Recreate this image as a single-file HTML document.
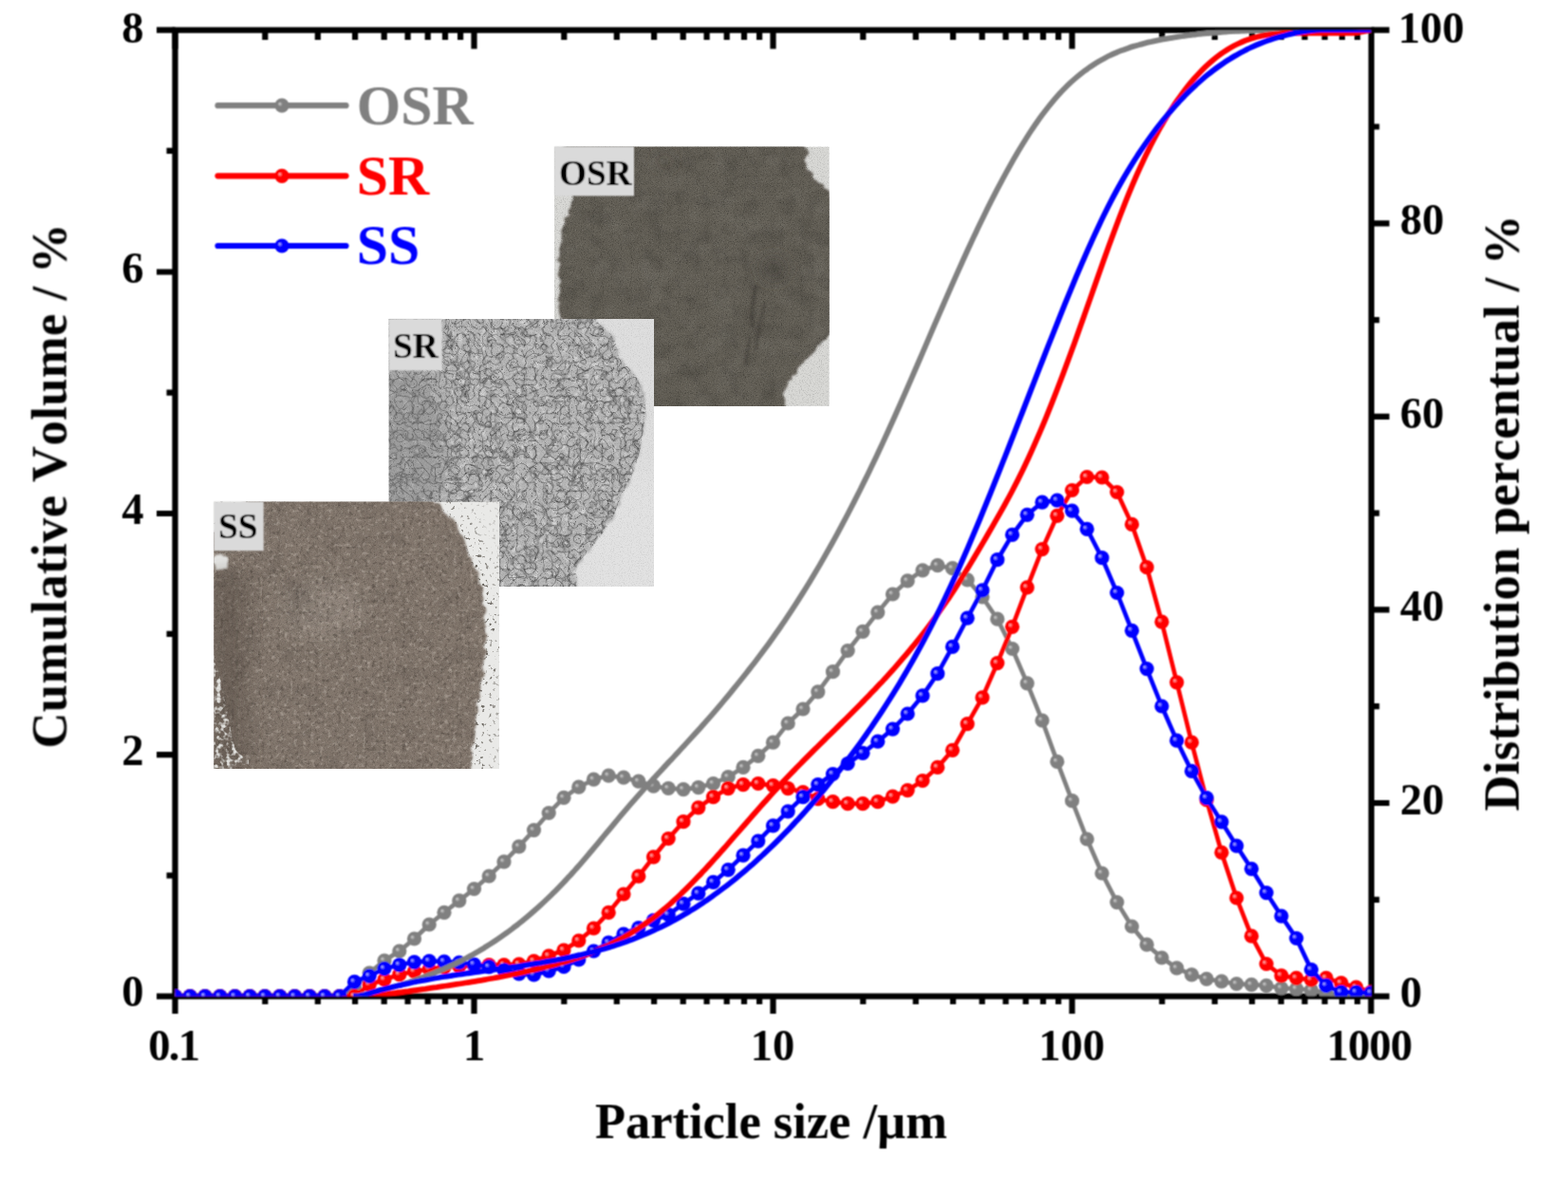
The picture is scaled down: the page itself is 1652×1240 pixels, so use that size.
<!DOCTYPE html><html><head><meta charset="utf-8"><style>html,body{margin:0;padding:0;background:#fff;overflow:hidden}svg{display:block}</style></head><body><svg width="1652" height="1240" viewBox="0 0 1652 1240">
<defs>
<radialGradient id="grg" cx="0.5" cy="0.5" r="0.5" fx="0.33" fy="0.36"><stop offset="0" stop-color="#d4d4d4"/><stop offset="0.34" stop-color="#808080"/><stop offset="1" stop-color="#808080"/></radialGradient>
<circle id="mg" r="7.6" fill="url(#grg)"/>
<radialGradient id="grr" cx="0.5" cy="0.5" r="0.5" fx="0.33" fy="0.36"><stop offset="0" stop-color="#ffc4c4"/><stop offset="0.34" stop-color="#ff0000"/><stop offset="1" stop-color="#ff0000"/></radialGradient>
<circle id="mr" r="7.6" fill="url(#grr)"/>
<radialGradient id="grb" cx="0.5" cy="0.5" r="0.5" fx="0.33" fy="0.36"><stop offset="0" stop-color="#c4c4ff"/><stop offset="0.34" stop-color="#0000ff"/><stop offset="1" stop-color="#0000ff"/></radialGradient>
<circle id="mb" r="7.6" fill="url(#grb)"/>
<filter id="soft" x="0" y="0" width="1652" height="1240" filterUnits="userSpaceOnUse"><feConvolveMatrix order="3" kernelMatrix="1 2 1 2 4 2 1 2 1" divisor="16" edgeMode="duplicate"/></filter>
<clipPath id="pc"><rect x="184.5" y="31.7" width="1260.3" height="1017.9"/></clipPath>

<filter id="fgrain" x="0" y="0" width="100%" height="100%" color-interpolation-filters="sRGB">
 <feTurbulence type="fractalNoise" baseFrequency="0.9" numOctaves="2" seed="4" result="n"/>
 <feColorMatrix in="n" type="matrix" values="0 0 0 0 0  0 0 0 0 0  0 0 0 0 0  1.6 0 0 0 -0.78"/>
</filter>
<filter id="fgrainw" x="0" y="0" width="100%" height="100%" color-interpolation-filters="sRGB">
 <feTurbulence type="fractalNoise" baseFrequency="0.8" numOctaves="2" seed="9" result="n"/>
 <feColorMatrix in="n" type="matrix" values="0 0 0 0 1  0 0 0 0 1  0 0 0 0 1  1.4 0 0 0 -0.72"/>
</filter>
<filter id="fclump" x="0" y="0" width="100%" height="100%" color-interpolation-filters="sRGB">
 <feTurbulence type="fractalNoise" baseFrequency="0.22" numOctaves="2" seed="11" result="n"/>
 <feColorMatrix in="n" type="matrix" values="0 0 0 0 1  0 0 0 0 0.97  0 0 0 0 0.93  2.2 0 0 0 -1.15"/>
</filter>
<filter id="fclumpd" x="0" y="0" width="100%" height="100%" color-interpolation-filters="sRGB">
 <feTurbulence type="fractalNoise" baseFrequency="0.25" numOctaves="2" seed="13" result="n"/>
 <feColorMatrix in="n" type="matrix" values="0 0 0 0 0.1  0 0 0 0 0.08  0 0 0 0 0.06  2.2 0 0 0 -1.15"/>
</filter>
<filter id="fmottle" x="0" y="0" width="100%" height="100%" color-interpolation-filters="sRGB">
 <feTurbulence type="fractalNoise" baseFrequency="0.05" numOctaves="3" seed="2" result="n"/>
 <feColorMatrix in="n" type="matrix" values="0 0 0 0 0  0 0 0 0 0  0 0 0 0 0  1.0 0 0 0 -0.45"/>
</filter>
<filter id="fmottlew" x="0" y="0" width="100%" height="100%" color-interpolation-filters="sRGB">
 <feTurbulence type="fractalNoise" baseFrequency="0.04" numOctaves="3" seed="21" result="n"/>
 <feColorMatrix in="n" type="matrix" values="0 0 0 0 1  0 0 0 0 1  0 0 0 0 1  1.2 0 0 0 -0.55"/>
</filter>
<filter id="fcrack" x="0" y="0" width="100%" height="100%" color-interpolation-filters="sRGB">
 <feTurbulence type="turbulence" baseFrequency="0.085" numOctaves="2" seed="7" result="n"/>
 <feComponentTransfer in="n" result="c">
  <feFuncR type="table" tableValues="0 0.6 1 1 1 1 1 1 1 1 1 1"/>
 </feComponentTransfer>
 <feColorMatrix in="c" type="matrix" values="0 0 0 0 0.25  0 0 0 0 0.25  0 0 0 0 0.25  -1 0 0 0 1"/>
</filter>
<filter id="fpebble" x="0" y="0" width="100%" height="100%" color-interpolation-filters="sRGB">
 <feTurbulence type="fractalNoise" baseFrequency="0.16" numOctaves="2" seed="17" result="n"/>
 <feColorMatrix in="n" type="matrix" values="0 0 0 0 1  0 0 0 0 1  0 0 0 0 1  2.4 0 0 0 -1.2"/>
</filter>
<filter id="fcrack2" x="0" y="0" width="100%" height="100%" color-interpolation-filters="sRGB">
 <feTurbulence type="turbulence" baseFrequency="0.11" numOctaves="1" seed="23" result="n"/>
 <feComponentTransfer in="n" result="c">
  <feFuncR type="table" tableValues="0 0.7 1 1 1 1 1 1 1 1 1 1 1 1"/>
 </feComponentTransfer>
 <feColorMatrix in="c" type="matrix" values="0 0 0 0 0.2  0 0 0 0 0.2  0 0 0 0 0.2  -1 0 0 0 1"/>
</filter>
<filter id="fedge" x="-5%" y="-5%" width="110%" height="110%">
 <feTurbulence type="fractalNoise" baseFrequency="0.12" numOctaves="2" seed="5" result="t"/>
 <feDisplacementMap in="SourceGraphic" in2="t" scale="8" xChannelSelector="R" yChannelSelector="G" result="d"/>
 <feGaussianBlur in="d" stdDeviation="0.9"/>
</filter>
<filter id="fspeck" x="0" y="0" width="100%" height="100%" color-interpolation-filters="sRGB">
 <feTurbulence type="fractalNoise" baseFrequency="0.26" numOctaves="2" seed="31" result="n"/>
 <feColorMatrix in="n" type="matrix" values="0 0 0 0 0.3  0 0 0 0 0.28  0 0 0 0 0.25  7 0 0 0 -4.3"/>
</filter>
<filter id="fsoft2" x="-20%" y="-20%" width="140%" height="140%"><feGaussianBlur stdDeviation="1.5"/></filter>
<filter id="fwhite" x="0" y="0" width="100%" height="100%" color-interpolation-filters="sRGB">
 <feTurbulence type="fractalNoise" baseFrequency="0.18" numOctaves="2" seed="41" result="n"/>
 <feColorMatrix in="n" type="matrix" values="0 0 0 0 0.9  0 0 0 0 0.9  0 0 0 0 0.89  4 0 0 0 -1.9"/>
</filter>
<clipPath id="cSSl"><path d="M225,690 C236,720 240,760 248,790 C258,800 270,805 280,812 L225,812Z"/></clipPath>
<filter id="fblur6" x="-100%" y="-100%" width="300%" height="300%"><feGaussianBlur stdDeviation="10"/></filter>
<clipPath id="cOSR"><rect x="584" y="154.4" width="289.8" height="273.5"/></clipPath>
<clipPath id="cSR"><rect x="409.7" y="336" width="279.3" height="282"/></clipPath>
<clipPath id="cSS"><rect x="225.3" y="528.5" width="300.8" height="281.6"/></clipPath>
<mask id="mSSedge"><path d="M250.0,520.0C256.3,517.0 275.0,518.0 300.0,518.0C325.0,518.0 374.5,518.7 400.0,520.0C425.5,521.3 441.3,522.5 453.0,526.0C464.7,529.5 464.8,535.3 470.0,541.0C475.2,546.7 480.0,553.2 484.0,560.0C488.0,566.8 491.2,575.3 494.0,582.0C496.8,588.7 498.7,593.7 501.0,600.0C503.3,606.3 506.3,610.0 508.0,620.0C509.7,630.0 510.7,646.7 511.0,660.0C511.3,673.3 511.2,686.7 510.0,700.0C508.8,713.3 505.7,726.7 504.0,740.0C502.3,753.3 501.3,768.0 500.0,780.0C498.7,792.0 496.8,803.7 496.0,812.0C495.2,820.3 511.0,827.0 495.0,830.0C479.0,833.0 446.7,830.0 400.0,830.0C353.3,830.0 246.0,841.7 215.0,830.0C184.0,818.3 213.8,781.7 214.0,760.0C214.2,738.3 215.7,720.0 216.0,700.0C216.3,680.0 216.0,656.7 216.0,640.0C216.0,623.3 215.7,611.7 216.0,600.0C216.3,588.3 210.3,580.7 218.0,570.0C225.7,559.3 256.7,544.3 262.0,536.0C267.3,527.7 243.7,523.0 250.0,520.0Z" fill="none" stroke="#fff" stroke-width="30" filter="url(#fblur6)"/></mask><clipPath id="cSRb"><path d="M400.0,330.0C417.5,304.3 464.2,325.7 500.0,326.0C535.8,326.3 593.0,329.3 615.0,332.0C637.0,334.7 626.8,338.0 632.0,342.0C637.2,346.0 642.0,349.7 646.0,356.0C650.0,362.3 651.8,373.0 656.0,380.0C660.2,387.0 667.0,390.2 671.0,398.0C675.0,405.8 678.8,418.2 680.0,427.0C681.2,435.8 679.0,443.0 678.0,451.0C677.0,459.0 676.0,466.8 674.0,475.0C672.0,483.2 669.3,491.8 666.0,500.0C662.7,508.2 657.7,516.0 654.0,524.0C650.3,532.0 648.5,540.0 644.0,548.0C639.5,556.0 633.0,564.0 627.0,572.0C621.0,580.0 612.8,587.2 608.0,596.0C603.2,604.8 616.0,619.3 598.0,625.0C580.0,630.7 533.0,629.2 500.0,630.0C467.0,630.8 417.5,655.0 400.0,630.0C382.5,605.0 395.0,530.0 395.0,480.0C395.0,430.0 382.5,355.7 400.0,330.0Z"/></clipPath><clipPath id="cOSRb"><path d="M600.0,150.0C616.3,138.8 660.3,145.2 700.0,145.0C739.7,144.8 813.3,144.5 838.0,149.0C862.7,153.5 844.0,165.0 848.0,172.0C852.0,179.0 857.8,185.7 862.0,191.0C866.2,196.3 869.8,197.5 873.0,204.0C876.2,210.5 879.7,209.0 881.0,230.0C882.3,251.0 882.0,310.0 881.0,330.0C880.0,350.0 877.5,344.7 875.0,350.0C872.5,355.3 870.5,357.0 866.0,362.0C861.5,367.0 853.3,373.8 848.0,380.0C842.7,386.2 837.7,393.3 834.0,399.0C830.3,404.7 828.8,408.2 826.0,414.0C823.2,419.8 838.0,429.7 817.0,434.0C796.0,438.3 736.2,439.0 700.0,440.0C663.8,441.0 617.7,448.3 600.0,440.0C582.3,431.7 595.7,408.3 594.0,390.0C592.3,371.7 590.8,348.3 590.0,330.0C589.2,311.7 588.5,295.0 589.0,280.0C589.5,265.0 590.8,251.3 593.0,240.0C595.2,228.7 600.8,227.0 602.0,212.0C603.2,197.0 583.7,161.2 600.0,150.0Z"/></clipPath><clipPath id="cSSb"><path d="M250.0,520.0C256.3,517.0 275.0,518.0 300.0,518.0C325.0,518.0 374.5,518.7 400.0,520.0C425.5,521.3 441.3,522.5 453.0,526.0C464.7,529.5 464.8,535.3 470.0,541.0C475.2,546.7 480.0,553.2 484.0,560.0C488.0,566.8 491.2,575.3 494.0,582.0C496.8,588.7 498.7,593.7 501.0,600.0C503.3,606.3 506.3,610.0 508.0,620.0C509.7,630.0 510.7,646.7 511.0,660.0C511.3,673.3 511.2,686.7 510.0,700.0C508.8,713.3 505.7,726.7 504.0,740.0C502.3,753.3 501.3,768.0 500.0,780.0C498.7,792.0 496.8,803.7 496.0,812.0C495.2,820.3 511.0,827.0 495.0,830.0C479.0,833.0 446.7,830.0 400.0,830.0C353.3,830.0 246.0,841.7 215.0,830.0C184.0,818.3 213.8,781.7 214.0,760.0C214.2,738.3 215.7,720.0 216.0,700.0C216.3,680.0 216.0,656.7 216.0,640.0C216.0,623.3 215.7,611.7 216.0,600.0C216.3,588.3 210.3,580.7 218.0,570.0C225.7,559.3 256.7,544.3 262.0,536.0C267.3,527.7 243.7,523.0 250.0,520.0Z"/></clipPath>
</defs>
<rect width="1652" height="1240" fill="#fff"/>
<g clip-path="url(#cOSR)"><rect x="584" y="154.4" width="289.8" height="273.5" fill="#d8d8d5"/><rect x="584" y="154.4" width="289.8" height="273.5" filter="url(#fgrain)" opacity="0.25" /><path d="M600.0,150.0C616.3,138.8 660.3,145.2 700.0,145.0C739.7,144.8 813.3,144.5 838.0,149.0C862.7,153.5 844.0,165.0 848.0,172.0C852.0,179.0 857.8,185.7 862.0,191.0C866.2,196.3 869.8,197.5 873.0,204.0C876.2,210.5 879.7,209.0 881.0,230.0C882.3,251.0 882.0,310.0 881.0,330.0C880.0,350.0 877.5,344.7 875.0,350.0C872.5,355.3 870.5,357.0 866.0,362.0C861.5,367.0 853.3,373.8 848.0,380.0C842.7,386.2 837.7,393.3 834.0,399.0C830.3,404.7 828.8,408.2 826.0,414.0C823.2,419.8 838.0,429.7 817.0,434.0C796.0,438.3 736.2,439.0 700.0,440.0C663.8,441.0 617.7,448.3 600.0,440.0C582.3,431.7 595.7,408.3 594.0,390.0C592.3,371.7 590.8,348.3 590.0,330.0C589.2,311.7 588.5,295.0 589.0,280.0C589.5,265.0 590.8,251.3 593.0,240.0C595.2,228.7 600.8,227.0 602.0,212.0C603.2,197.0 583.7,161.2 600.0,150.0Z" fill="#645e57" filter="url(#fedge)"/><g clip-path="url(#cOSRb)"><rect x="584" y="154.4" width="289.8" height="273.5" filter="url(#fmottle)" opacity="0.3" /><rect x="584" y="154.4" width="289.8" height="273.5" filter="url(#fmottlew)" opacity="0.12" /><rect x="584" y="154.4" width="289.8" height="273.5" filter="url(#fgrain)" opacity="0.45" /><rect x="584" y="154.4" width="289.8" height="273.5" filter="url(#fgrainw)" opacity="0.22" /><ellipse cx="815" cy="283" rx="12" ry="11" fill="#35312d" opacity="0.6" filter="url(#fblur6)"/><path d="M797,300 Q790,325 793,345 M806,318 Q800,340 796,368 M790,355 Q787,372 786,385" stroke="#2e2a27" stroke-width="3.5" fill="none" opacity="0.35" filter="url(#fsoft2)"/><ellipse cx="700" cy="170" rx="9" ry="5" fill="#3a3632" opacity="0.5" filter="url(#fblur6)"/></g></g><g clip-path="url(#cSR)"><rect x="409.7" y="336" width="279.3" height="282" fill="#dedede"/><rect x="600" y="500" width="100" height="130" fill="#e2e2e2" filter="url(#fblur6)"/><rect x="409.7" y="336" width="279.3" height="282" filter="url(#fgrain)" opacity="0.15" /><path d="M400.0,330.0C417.5,304.3 464.2,325.7 500.0,326.0C535.8,326.3 593.0,329.3 615.0,332.0C637.0,334.7 626.8,338.0 632.0,342.0C637.2,346.0 642.0,349.7 646.0,356.0C650.0,362.3 651.8,373.0 656.0,380.0C660.2,387.0 667.0,390.2 671.0,398.0C675.0,405.8 678.8,418.2 680.0,427.0C681.2,435.8 679.0,443.0 678.0,451.0C677.0,459.0 676.0,466.8 674.0,475.0C672.0,483.2 669.3,491.8 666.0,500.0C662.7,508.2 657.7,516.0 654.0,524.0C650.3,532.0 648.5,540.0 644.0,548.0C639.5,556.0 633.0,564.0 627.0,572.0C621.0,580.0 612.8,587.2 608.0,596.0C603.2,604.8 616.0,619.3 598.0,625.0C580.0,630.7 533.0,629.2 500.0,630.0C467.0,630.8 417.5,655.0 400.0,630.0C382.5,605.0 395.0,530.0 395.0,480.0C395.0,430.0 382.5,355.7 400.0,330.0Z" fill="#b6b6b6" filter="url(#fedge)"/><g clip-path="url(#cSRb)"><rect x="409.7" y="336" width="279.3" height="282" filter="url(#fpebble)" opacity="0.55" /><rect x="409.7" y="336" width="279.3" height="282" filter="url(#fcrack)" opacity="0.62" /><rect x="409.7" y="336" width="279.3" height="282" filter="url(#fcrack2)" opacity="0.38" /><rect x="409.7" y="336" width="279.3" height="282" filter="url(#fgrain)" opacity="0.3" /><rect x="409.7" y="336" width="279.3" height="282" filter="url(#fgrainw)" opacity="0.25" /><ellipse cx="430" cy="470" rx="40" ry="90" fill="#707070" opacity="0.35" filter="url(#fblur6)"/></g></g><g clip-path="url(#cSS)"><rect x="225.3" y="528.5" width="300.8" height="281.6" fill="#e9e9e7"/><rect x="225.3" y="528.5" width="300.8" height="281.6" filter="url(#fspeck)" opacity="0.2" /><rect x="225.3" y="528.5" width="300.8" height="281.6" filter="url(#fspeck)" opacity="0.9" mask="url(#mSSedge)"/><path d="M250.0,520.0C256.3,517.0 275.0,518.0 300.0,518.0C325.0,518.0 374.5,518.7 400.0,520.0C425.5,521.3 441.3,522.5 453.0,526.0C464.7,529.5 464.8,535.3 470.0,541.0C475.2,546.7 480.0,553.2 484.0,560.0C488.0,566.8 491.2,575.3 494.0,582.0C496.8,588.7 498.7,593.7 501.0,600.0C503.3,606.3 506.3,610.0 508.0,620.0C509.7,630.0 510.7,646.7 511.0,660.0C511.3,673.3 511.2,686.7 510.0,700.0C508.8,713.3 505.7,726.7 504.0,740.0C502.3,753.3 501.3,768.0 500.0,780.0C498.7,792.0 496.8,803.7 496.0,812.0C495.2,820.3 511.0,827.0 495.0,830.0C479.0,833.0 446.7,830.0 400.0,830.0C353.3,830.0 246.0,841.7 215.0,830.0C184.0,818.3 213.8,781.7 214.0,760.0C214.2,738.3 215.7,720.0 216.0,700.0C216.3,680.0 216.0,656.7 216.0,640.0C216.0,623.3 215.7,611.7 216.0,600.0C216.3,588.3 210.3,580.7 218.0,570.0C225.7,559.3 256.7,544.3 262.0,536.0C267.3,527.7 243.7,523.0 250.0,520.0Z" fill="#83776d" filter="url(#fedge)"/><g clip-path="url(#cSSb)"><ellipse cx="340" cy="640" rx="45" ry="35" fill="#9a8f85" opacity="0.6" filter="url(#fblur6)"/><ellipse cx="316" cy="625" rx="10" ry="14" fill="#4a423c" opacity="0.5" filter="url(#fblur6)"/><rect x="225.3" y="528.5" width="300.8" height="281.6" filter="url(#fmottle)" opacity="0.22" /><rect x="225.3" y="528.5" width="300.8" height="281.6" filter="url(#fclump)" opacity="0.35" /><rect x="225.3" y="528.5" width="300.8" height="281.6" filter="url(#fclumpd)" opacity="0.35" /><rect x="225.3" y="528.5" width="300.8" height="281.6" filter="url(#fgrain)" opacity="0.25" /><rect x="225.3" y="528.5" width="300.8" height="281.6" filter="url(#fgrainw)" opacity="0.15" /></g><ellipse cx="232" cy="592" rx="8" ry="9" fill="#e8e8e6" filter="url(#fedge)"/><rect x="220" y="600" width="40" height="215" fill="#3c352f" opacity="0.3" filter="url(#fblur6)"/><g clip-path="url(#cSSl)"><rect x="222" y="690" width="40" height="125" filter="url(#fwhite)" opacity="0.95"/></g></g>
<g filter="url(#soft)">
<rect x="584" y="154.4" width="84" height="52" fill="#dadada"/><text x="589" y="194.6" font-family="Liberation Serif, serif" font-weight="bold" font-size="37.3" fill="#000" style="font-kerning:none">OSR</text><rect x="409.7" y="336" width="56" height="54.4" fill="#dadada"/><text x="414" y="376.5" font-family="Liberation Serif, serif" font-weight="bold" font-size="37.5" fill="#000" style="font-kerning:none">SR</text><rect x="225.3" y="528.5" width="52.4" height="51.7" fill="#dadada"/><text x="230" y="567.3" font-family="Liberation Serif, serif" font-weight="bold" font-size="37.5" fill="#000" style="font-kerning:none">SS</text>
<g stroke="#000" stroke-width="6.2" fill="none" stroke-linecap="square">
<rect x="184.5" y="31.7" width="1260.3" height="1017.9" stroke-linecap="butt"/>
<path d="M184.5,1049.6V1068 M184.5,31.7V51.6 M279.3,1049.6V1058 M279.3,31.7V42 M334.8,1049.6V1058 M334.8,31.7V42 M374.1,1049.6V1058 M374.1,31.7V42 M404.7,1049.6V1058 M404.7,31.7V42 M429.6,1049.6V1058 M429.6,31.7V42 M450.7,1049.6V1058 M450.7,31.7V42 M469,1049.6V1058 M469,31.7V42 M485.1,1049.6V1058 M485.1,31.7V42 M499.5,1049.6V1068 M499.5,31.7V51.6 M594.3,1049.6V1058 M594.3,31.7V42 M649.8,1049.6V1058 M649.8,31.7V42 M689.1,1049.6V1058 M689.1,31.7V42 M719.7,1049.6V1058 M719.7,31.7V42 M744.6,1049.6V1058 M744.6,31.7V42 M765.7,1049.6V1058 M765.7,31.7V42 M784,1049.6V1058 M784,31.7V42 M800.1,1049.6V1058 M800.1,31.7V42 M814.5,1049.6V1068 M814.5,31.7V51.6 M909.3,1049.6V1058 M909.3,31.7V42 M964.8,1049.6V1058 M964.8,31.7V42 M1004.1,1049.6V1058 M1004.1,31.7V42 M1034.7,1049.6V1058 M1034.7,31.7V42 M1059.6,1049.6V1058 M1059.6,31.7V42 M1080.7,1049.6V1058 M1080.7,31.7V42 M1099,1049.6V1058 M1099,31.7V42 M1115.1,1049.6V1058 M1115.1,31.7V42 M1129.5,1049.6V1068 M1129.5,31.7V51.6 M1224.3,1049.6V1058 M1224.3,31.7V42 M1279.8,1049.6V1058 M1279.8,31.7V42 M1319.1,1049.6V1058 M1319.1,31.7V42 M1349.7,1049.6V1058 M1349.7,31.7V42 M1374.6,1049.6V1058 M1374.6,31.7V42 M1395.7,1049.6V1058 M1395.7,31.7V42 M1414,1049.6V1058 M1414,31.7V42 M1430.1,1049.6V1058 M1430.1,31.7V42 M1444.5,1049.6V1068 M184.5,1049.6H165 M184.5,922.3H175.5 M184.5,795.1H165 M184.5,667.8H175.5 M184.5,541H165 M184.5,413.6H175.5 M184.5,286.5H165 M184.5,158.9H175.5 M184.5,31.7H165 M1444.8,1049.6H1463.8 M1444.8,947.8H1453.3 M1444.8,846H1463.8 M1444.8,744.2H1453.3 M1444.8,642.4H1463.8 M1444.8,540.6H1453.3 M1444.8,438.9H1463.8 M1444.8,337.1H1453.3 M1444.8,235.3H1463.8 M1444.8,133.5H1453.3 M1444.8,31.7H1463.8" stroke-linecap="butt"/>
</g>
<g clip-path="url(#pc)" fill="none" stroke-linejoin="round">
<polyline points="184.5,1049.6 200.2,1049.6 216,1049.6 231.8,1049.6 247.5,1049.6 263.2,1049.6 279,1049.6 294.8,1049.6 310.5,1049.6 326.2,1049.6 342,1049.6 357.8,1049.6 373.5,1040 389.2,1025 405,1012 420.8,1002 436.5,989 452.2,974 468,961.3 483.8,948.9 499.5,936.5 515.2,923 531,907.9 546.8,891.8 562.5,874.6 578.2,856.5 594,840.3 609.8,829.2 625.5,821.2 641.2,817.1 657,819.2 672.8,823.2 688.5,828.2 704.2,830.5 720,831.6 735.8,829.6 751.5,825.5 767.2,818.5 783,808.4 798.8,796.3 814.5,782.2 830.2,762 846,747 861.8,728.8 877.5,707.7 893.2,685.5 909,665.3 924.8,645.1 940.5,626 956.2,611.9 972,600.8 987.8,595.7 1003.5,598.7 1019.2,610.8 1035,629 1050.8,652.2 1066.5,683.5 1082.2,719.8 1098,759 1113.8,802.4 1129.5,843.7 1145.2,884 1161,920 1176.8,950.6 1192.5,976 1208.2,995.2 1224,1009 1239.8,1019.9 1255.5,1026.9 1271.2,1031.3 1287,1033.9 1302.8,1036.5 1318.5,1037.4 1334.2,1038.3 1350,1041 1365.8,1041.8 1381.5,1043 1397.2,1046 1413,1049.6 1428.8,1049.6 1444.5,1049.6" stroke="#808080" stroke-width="4.6"/>
<g><use href="#mg" x="184.5" y="1049.6"/><use href="#mg" x="200.2" y="1049.6"/><use href="#mg" x="216" y="1049.6"/><use href="#mg" x="231.8" y="1049.6"/><use href="#mg" x="247.5" y="1049.6"/><use href="#mg" x="263.2" y="1049.6"/><use href="#mg" x="279" y="1049.6"/><use href="#mg" x="294.8" y="1049.6"/><use href="#mg" x="310.5" y="1049.6"/><use href="#mg" x="326.2" y="1049.6"/><use href="#mg" x="342" y="1049.6"/><use href="#mg" x="357.8" y="1049.6"/><use href="#mg" x="373.5" y="1040"/><use href="#mg" x="389.2" y="1025"/><use href="#mg" x="405" y="1012"/><use href="#mg" x="420.8" y="1002"/><use href="#mg" x="436.5" y="989"/><use href="#mg" x="452.2" y="974"/><use href="#mg" x="468" y="961.3"/><use href="#mg" x="483.8" y="948.9"/><use href="#mg" x="499.5" y="936.5"/><use href="#mg" x="515.2" y="923"/><use href="#mg" x="531" y="907.9"/><use href="#mg" x="546.8" y="891.8"/><use href="#mg" x="562.5" y="874.6"/><use href="#mg" x="578.2" y="856.5"/><use href="#mg" x="594" y="840.3"/><use href="#mg" x="609.8" y="829.2"/><use href="#mg" x="625.5" y="821.2"/><use href="#mg" x="641.2" y="817.1"/><use href="#mg" x="657" y="819.2"/><use href="#mg" x="672.8" y="823.2"/><use href="#mg" x="688.5" y="828.2"/><use href="#mg" x="704.2" y="830.5"/><use href="#mg" x="720" y="831.6"/><use href="#mg" x="735.8" y="829.6"/><use href="#mg" x="751.5" y="825.5"/><use href="#mg" x="767.2" y="818.5"/><use href="#mg" x="783" y="808.4"/><use href="#mg" x="798.8" y="796.3"/><use href="#mg" x="814.5" y="782.2"/><use href="#mg" x="830.2" y="762"/><use href="#mg" x="846" y="747"/><use href="#mg" x="861.8" y="728.8"/><use href="#mg" x="877.5" y="707.7"/><use href="#mg" x="893.2" y="685.5"/><use href="#mg" x="909" y="665.3"/><use href="#mg" x="924.8" y="645.1"/><use href="#mg" x="940.5" y="626"/><use href="#mg" x="956.2" y="611.9"/><use href="#mg" x="972" y="600.8"/><use href="#mg" x="987.8" y="595.7"/><use href="#mg" x="1003.5" y="598.7"/><use href="#mg" x="1019.2" y="610.8"/><use href="#mg" x="1035" y="629"/><use href="#mg" x="1050.8" y="652.2"/><use href="#mg" x="1066.5" y="683.5"/><use href="#mg" x="1082.2" y="719.8"/><use href="#mg" x="1098" y="759"/><use href="#mg" x="1113.8" y="802.4"/><use href="#mg" x="1129.5" y="843.7"/><use href="#mg" x="1145.2" y="884"/><use href="#mg" x="1161" y="920"/><use href="#mg" x="1176.8" y="950.6"/><use href="#mg" x="1192.5" y="976"/><use href="#mg" x="1208.2" y="995.2"/><use href="#mg" x="1224" y="1009"/><use href="#mg" x="1239.8" y="1019.9"/><use href="#mg" x="1255.5" y="1026.9"/><use href="#mg" x="1271.2" y="1031.3"/><use href="#mg" x="1287" y="1033.9"/><use href="#mg" x="1302.8" y="1036.5"/><use href="#mg" x="1318.5" y="1037.4"/><use href="#mg" x="1334.2" y="1038.3"/><use href="#mg" x="1350" y="1041"/><use href="#mg" x="1365.8" y="1041.8"/><use href="#mg" x="1381.5" y="1043"/><use href="#mg" x="1397.2" y="1046"/><use href="#mg" x="1413" y="1049.6"/><use href="#mg" x="1428.8" y="1049.6"/><use href="#mg" x="1444.5" y="1049.6"/></g>
<polyline points="184.5,1049.6 200.2,1049.6 216,1049.6 231.8,1049.6 247.5,1049.6 263.2,1049.6 279,1049.6 294.8,1049.6 310.5,1049.6 326.2,1049.6 342,1049.6 357.8,1049.6 373.5,1049.6 389.2,1037.5 405,1032 420.8,1026.7 436.5,1023.5 452.2,1021 468,1019 483.8,1018 499.5,1017 515.2,1016.5 531,1016.5 546.8,1015.8 562.5,1012.5 578.2,1007 594,1001 609.8,991 625.5,978 641.2,961.4 657,942 672.8,923.2 688.5,902.8 704.2,883.5 720,865.7 735.8,850.8 751.5,839.7 767.2,830.6 783,826.6 798.8,825.5 814.5,827.6 830.2,830.6 846,834.6 861.8,841.7 877.5,844.7 893.2,846.7 909,846.7 924.8,844.7 940.5,839.2 956.2,832.6 972,822.5 987.8,808.4 1003.5,790.3 1019.2,762.6 1035,734.9 1050.8,698.6 1066.5,660.3 1082.2,618.9 1098,578.6 1113.8,543.3 1129.5,516.5 1145.2,502.5 1161,503 1176.8,518.5 1192.5,552.4 1208.2,597.7 1224,655.2 1239.8,718.8 1255.5,782.2 1271.2,842.7 1287,898.2 1302.8,946 1318.5,986.2 1334.2,1015.5 1350,1027.8 1365.8,1030.4 1381.5,1032.2 1397.2,1030.4 1413,1035.7 1428.8,1040.1 1444.5,1045" stroke="#ff0000" stroke-width="4.6"/>
<g><use href="#mr" x="184.5" y="1049.6"/><use href="#mr" x="200.2" y="1049.6"/><use href="#mr" x="216" y="1049.6"/><use href="#mr" x="231.8" y="1049.6"/><use href="#mr" x="247.5" y="1049.6"/><use href="#mr" x="263.2" y="1049.6"/><use href="#mr" x="279" y="1049.6"/><use href="#mr" x="294.8" y="1049.6"/><use href="#mr" x="310.5" y="1049.6"/><use href="#mr" x="326.2" y="1049.6"/><use href="#mr" x="342" y="1049.6"/><use href="#mr" x="357.8" y="1049.6"/><use href="#mr" x="373.5" y="1049.6"/><use href="#mr" x="389.2" y="1037.5"/><use href="#mr" x="405" y="1032"/><use href="#mr" x="420.8" y="1026.7"/><use href="#mr" x="436.5" y="1023.5"/><use href="#mr" x="452.2" y="1021"/><use href="#mr" x="468" y="1019"/><use href="#mr" x="483.8" y="1018"/><use href="#mr" x="499.5" y="1017"/><use href="#mr" x="515.2" y="1016.5"/><use href="#mr" x="531" y="1016.5"/><use href="#mr" x="546.8" y="1015.8"/><use href="#mr" x="562.5" y="1012.5"/><use href="#mr" x="578.2" y="1007"/><use href="#mr" x="594" y="1001"/><use href="#mr" x="609.8" y="991"/><use href="#mr" x="625.5" y="978"/><use href="#mr" x="641.2" y="961.4"/><use href="#mr" x="657" y="942"/><use href="#mr" x="672.8" y="923.2"/><use href="#mr" x="688.5" y="902.8"/><use href="#mr" x="704.2" y="883.5"/><use href="#mr" x="720" y="865.7"/><use href="#mr" x="735.8" y="850.8"/><use href="#mr" x="751.5" y="839.7"/><use href="#mr" x="767.2" y="830.6"/><use href="#mr" x="783" y="826.6"/><use href="#mr" x="798.8" y="825.5"/><use href="#mr" x="814.5" y="827.6"/><use href="#mr" x="830.2" y="830.6"/><use href="#mr" x="846" y="834.6"/><use href="#mr" x="861.8" y="841.7"/><use href="#mr" x="877.5" y="844.7"/><use href="#mr" x="893.2" y="846.7"/><use href="#mr" x="909" y="846.7"/><use href="#mr" x="924.8" y="844.7"/><use href="#mr" x="940.5" y="839.2"/><use href="#mr" x="956.2" y="832.6"/><use href="#mr" x="972" y="822.5"/><use href="#mr" x="987.8" y="808.4"/><use href="#mr" x="1003.5" y="790.3"/><use href="#mr" x="1019.2" y="762.6"/><use href="#mr" x="1035" y="734.9"/><use href="#mr" x="1050.8" y="698.6"/><use href="#mr" x="1066.5" y="660.3"/><use href="#mr" x="1082.2" y="618.9"/><use href="#mr" x="1098" y="578.6"/><use href="#mr" x="1113.8" y="543.3"/><use href="#mr" x="1129.5" y="516.5"/><use href="#mr" x="1145.2" y="502.5"/><use href="#mr" x="1161" y="503"/><use href="#mr" x="1176.8" y="518.5"/><use href="#mr" x="1192.5" y="552.4"/><use href="#mr" x="1208.2" y="597.7"/><use href="#mr" x="1224" y="655.2"/><use href="#mr" x="1239.8" y="718.8"/><use href="#mr" x="1255.5" y="782.2"/><use href="#mr" x="1271.2" y="842.7"/><use href="#mr" x="1287" y="898.2"/><use href="#mr" x="1302.8" y="946"/><use href="#mr" x="1318.5" y="986.2"/><use href="#mr" x="1334.2" y="1015.5"/><use href="#mr" x="1350" y="1027.8"/><use href="#mr" x="1365.8" y="1030.4"/><use href="#mr" x="1381.5" y="1032.2"/><use href="#mr" x="1397.2" y="1030.4"/><use href="#mr" x="1413" y="1035.7"/><use href="#mr" x="1428.8" y="1040.1"/><use href="#mr" x="1444.5" y="1045"/></g>
<polyline points="184.5,1049.6 200.2,1049.6 216,1049.6 231.8,1049.6 247.5,1049.6 263.2,1049.6 279,1049.6 294.8,1049.6 310.5,1049.6 326.2,1049.6 342,1049.6 357.8,1049.6 373.5,1034.4 389.2,1028.3 405,1020.5 420.8,1016.6 436.5,1013.6 452.2,1012.5 468,1013 483.8,1014 499.5,1016 515.2,1018.7 531,1022 546.8,1026 562.5,1027 578.2,1023 594,1018.5 609.8,1011 625.5,1002 641.2,993 657,984 672.8,977.5 688.5,969.6 704.2,963.7 720,952.2 735.8,941.2 751.5,929.4 767.2,916.3 783,901.2 798.8,886.1 814.5,869.9 830.2,854.8 846,839.7 861.8,826.6 877.5,815.5 893.2,804.4 909,793.3 924.8,781.2 940.5,768.1 956.2,752 972,732.9 987.8,709.7 1003.5,681.4 1019.2,651.2 1035,621.9 1050.8,589.7 1066.5,563.4 1082.2,542.3 1098,529.2 1113.8,527.1 1129.5,538.2 1145.2,557.4 1161,587.7 1176.8,624.5 1192.5,664.3 1208.2,704.6 1224,744 1239.8,780.2 1255.5,812.4 1271.2,840.7 1287,865.9 1302.8,891.1 1318.5,915.3 1334.2,940.6 1350,965.1 1365.8,988.5 1381.5,1021.6 1397.2,1038.3 1413,1045.3 1428.8,1045.3 1444.5,1046" stroke="#0000ff" stroke-width="4.6"/>
<g><use href="#mb" x="184.5" y="1049.6"/><use href="#mb" x="200.2" y="1049.6"/><use href="#mb" x="216" y="1049.6"/><use href="#mb" x="231.8" y="1049.6"/><use href="#mb" x="247.5" y="1049.6"/><use href="#mb" x="263.2" y="1049.6"/><use href="#mb" x="279" y="1049.6"/><use href="#mb" x="294.8" y="1049.6"/><use href="#mb" x="310.5" y="1049.6"/><use href="#mb" x="326.2" y="1049.6"/><use href="#mb" x="342" y="1049.6"/><use href="#mb" x="357.8" y="1049.6"/><use href="#mb" x="373.5" y="1034.4"/><use href="#mb" x="389.2" y="1028.3"/><use href="#mb" x="405" y="1020.5"/><use href="#mb" x="420.8" y="1016.6"/><use href="#mb" x="436.5" y="1013.6"/><use href="#mb" x="452.2" y="1012.5"/><use href="#mb" x="468" y="1013"/><use href="#mb" x="483.8" y="1014"/><use href="#mb" x="499.5" y="1016"/><use href="#mb" x="515.2" y="1018.7"/><use href="#mb" x="531" y="1022"/><use href="#mb" x="546.8" y="1026"/><use href="#mb" x="562.5" y="1027"/><use href="#mb" x="578.2" y="1023"/><use href="#mb" x="594" y="1018.5"/><use href="#mb" x="609.8" y="1011"/><use href="#mb" x="625.5" y="1002"/><use href="#mb" x="641.2" y="993"/><use href="#mb" x="657" y="984"/><use href="#mb" x="672.8" y="977.5"/><use href="#mb" x="688.5" y="969.6"/><use href="#mb" x="704.2" y="963.7"/><use href="#mb" x="720" y="952.2"/><use href="#mb" x="735.8" y="941.2"/><use href="#mb" x="751.5" y="929.4"/><use href="#mb" x="767.2" y="916.3"/><use href="#mb" x="783" y="901.2"/><use href="#mb" x="798.8" y="886.1"/><use href="#mb" x="814.5" y="869.9"/><use href="#mb" x="830.2" y="854.8"/><use href="#mb" x="846" y="839.7"/><use href="#mb" x="861.8" y="826.6"/><use href="#mb" x="877.5" y="815.5"/><use href="#mb" x="893.2" y="804.4"/><use href="#mb" x="909" y="793.3"/><use href="#mb" x="924.8" y="781.2"/><use href="#mb" x="940.5" y="768.1"/><use href="#mb" x="956.2" y="752"/><use href="#mb" x="972" y="732.9"/><use href="#mb" x="987.8" y="709.7"/><use href="#mb" x="1003.5" y="681.4"/><use href="#mb" x="1019.2" y="651.2"/><use href="#mb" x="1035" y="621.9"/><use href="#mb" x="1050.8" y="589.7"/><use href="#mb" x="1066.5" y="563.4"/><use href="#mb" x="1082.2" y="542.3"/><use href="#mb" x="1098" y="529.2"/><use href="#mb" x="1113.8" y="527.1"/><use href="#mb" x="1129.5" y="538.2"/><use href="#mb" x="1145.2" y="557.4"/><use href="#mb" x="1161" y="587.7"/><use href="#mb" x="1176.8" y="624.5"/><use href="#mb" x="1192.5" y="664.3"/><use href="#mb" x="1208.2" y="704.6"/><use href="#mb" x="1224" y="744"/><use href="#mb" x="1239.8" y="780.2"/><use href="#mb" x="1255.5" y="812.4"/><use href="#mb" x="1271.2" y="840.7"/><use href="#mb" x="1287" y="865.9"/><use href="#mb" x="1302.8" y="891.1"/><use href="#mb" x="1318.5" y="915.3"/><use href="#mb" x="1334.2" y="940.6"/><use href="#mb" x="1350" y="965.1"/><use href="#mb" x="1365.8" y="988.5"/><use href="#mb" x="1381.5" y="1021.6"/><use href="#mb" x="1397.2" y="1038.3"/><use href="#mb" x="1413" y="1045.3"/><use href="#mb" x="1428.8" y="1045.3"/><use href="#mb" x="1444.5" y="1046"/></g>
<path d="M372,1049.6C373,1049.5 376,1049.3 378,1049C380,1048.7 382,1048.1 384,1047.6C386,1047.2 388,1046.7 390,1046.2C392,1045.7 394,1045.3 396,1044.8C398,1044.3 400,1043.7 402,1043.2C404,1042.7 406,1042.2 408,1041.6C410,1041.1 412,1040.5 414,1040C416,1039.4 418,1038.8 420,1038.2C422,1037.6 424,1037 426,1036.4C428,1035.7 430,1035.1 432,1034.4C434,1033.8 436,1033.1 438,1032.4C440,1031.7 442,1031 444,1030.3C446,1029.6 448,1028.8 450,1028C452,1027.3 454,1026.5 456,1025.7C458,1024.9 460,1024.1 462,1023.2C464,1022.4 466,1021.5 468,1020.7C470,1019.8 472,1018.9 474,1017.9C476,1017 478,1016.1 480,1015.1C482,1014.1 484,1013.1 486,1012.1C488,1011.1 490,1010 492,1009C494,1007.9 496,1006.8 498,1005.7C500,1004.6 502,1003.4 504,1002.3C506,1001.1 508,999.9 510,998.7C512,997.4 514,996.2 516,994.9C518,993.6 520,992.3 522,991C524,989.7 526,988.3 528,986.9C530,985.5 532,984.1 534,982.6C536,981.2 538,979.7 540,978.2C542,976.7 544,975.1 546,973.6C548,972 550,970.4 552,968.7C554,967.1 556,965.4 558,963.7C560,962 562,960.3 564,958.5C566,956.8 568,955 570,953.1C572,951.3 574,949.4 576,947.5C578,945.6 580,943.7 582,941.7C584,939.8 586,937.8 588,935.7C590,933.7 592,931.6 594,929.5C596,927.4 598,925.2 600,923.1C602,920.9 604,918.6 606,916.4C608,914.1 610,911.9 612,909.6C614,907.3 616,904.9 618,902.6C620,900.2 622,897.8 624,895.5C626,893.1 628,890.7 630,888.3C632,885.9 634,883.4 636,881C638,878.6 640,876.2 642,873.8C644,871.4 646,869 648,866.6C650,864.2 652,861.8 654,859.4C656,857.1 658,854.7 660,852.4C662,850 664,847.7 666,845.4C668,843.2 670,840.9 672,838.6C674,836.4 676,834.2 678,831.9C680,829.7 682,827.5 684,825.3C686,823.1 688,821 690,818.8C692,816.6 694,814.4 696,812.3C698,810.1 700,808 702,805.8C704,803.7 706,801.5 708,799.4C710,797.2 712,795.1 714,792.9C716,790.8 718,788.6 720,786.4C722,784.3 724,782.1 726,779.9C728,777.7 730,775.5 732,773.3C734,771.1 736,768.9 738,766.7C740,764.4 742,762.2 744,759.9C746,757.7 748,755.4 750,753.1C752,750.8 754,748.4 756,746.1C758,743.7 760,741.4 762,739C764,736.6 766,734.2 768,731.8C770,729.3 772,726.9 774,724.4C776,722 778,719.5 780,717C782,714.5 784,712 786,709.5C788,706.9 790,704.4 792,701.8C794,699.2 796,696.6 798,694C800,691.4 802,688.7 804,686C806,683.3 808,680.6 810,677.9C812,675.1 814,672.3 816,669.5C818,666.7 820,663.9 822,661C824,658.1 826,655.2 828,652.2C830,649.2 832,646.2 834,643.2C836,640.1 838,637 840,633.9C842,630.8 844,627.6 846,624.4C848,621.2 850,618 852,614.7C854,611.4 856,608.1 858,604.8C860,601.4 862,598 864,594.6C866,591.1 868,587.7 870,584.1C872,580.6 874,577.1 876,573.5C878,569.9 880,566.2 882,562.6C884,558.9 886,555.2 888,551.4C890,547.7 892,543.9 894,540C896,536.2 898,532.3 900,528.4C902,524.5 904,520.5 906,516.5C908,512.5 910,508.5 912,504.4C914,500.4 916,496.2 918,492.1C920,487.9 922,483.7 924,479.5C926,475.2 928,470.9 930,466.6C932,462.3 934,457.9 936,453.5C938,449.1 940,444.7 942,440.2C944,435.7 946,431.2 948,426.7C950,422.2 952,417.6 954,413.1C956,408.5 958,403.9 960,399.3C962,394.7 964,390.1 966,385.5C968,380.8 970,376.2 972,371.6C974,366.9 976,362.3 978,357.7C980,353 982,348.4 984,343.7C986,339.1 988,334.5 990,329.9C992,325.3 994,320.7 996,316.1C998,311.5 1000,306.9 1002,302.4C1004,297.9 1006,293.4 1008,288.9C1010,284.4 1012,279.9 1014,275.5C1016,271.1 1018,266.7 1020,262.3C1022,258 1024,253.7 1026,249.4C1028,245.2 1030,240.9 1032,236.8C1034,232.6 1036,228.5 1038,224.4C1040,220.3 1042,216.3 1044,212.4C1046,208.4 1048,204.5 1050,200.6C1052,196.8 1054,193 1056,189.3C1058,185.5 1060,181.9 1062,178.3C1064,174.7 1066,171.1 1068,167.6C1070,164.2 1072,160.8 1074,157.4C1076,154.1 1078,150.8 1080,147.7C1082,144.5 1084,141.4 1086,138.3C1088,135.3 1090,132.3 1092,129.5C1094,126.6 1096,123.8 1098,121.1C1100,118.4 1102,115.7 1104,113.2C1106,110.7 1108,108.2 1110,105.8C1112,103.5 1114,101.2 1116,99C1118,96.8 1120,94.7 1122,92.7C1124,90.7 1126,88.8 1128,86.9C1130,85.1 1132,83.3 1134,81.6C1136,79.9 1138,78.3 1140,76.7C1142,75.2 1144,73.7 1146,72.3C1148,70.8 1150,69.5 1152,68.2C1154,66.9 1156,65.7 1158,64.5C1160,63.4 1162,62.3 1164,61.2C1166,60.1 1168,59.1 1170,58.2C1172,57.2 1174,56.3 1176,55.5C1178,54.6 1180,53.8 1182,53.1C1184,52.3 1186,51.6 1188,50.9C1190,50.2 1192,49.5 1194,48.9C1196,48.3 1198,47.7 1200,47.2C1202,46.6 1204,46.1 1206,45.6C1208,45.1 1210,44.6 1212,44.2C1214,43.7 1216,43.3 1218,42.9C1220,42.5 1222,42.1 1224,41.7C1226,41.3 1228,41 1230,40.6C1232,40.3 1234,39.9 1236,39.6C1238,39.3 1240,39 1242,38.7C1244,38.4 1246,38.1 1248,37.8C1250,37.5 1252,37.3 1254,37C1256,36.8 1258,36.5 1260,36.3C1262,36.1 1264,35.8 1266,35.6C1268,35.4 1270,35.2 1272,35C1274,34.8 1276,34.7 1278,34.5C1280,34.3 1282,34.2 1284,34C1286,33.9 1288,33.7 1290,33.6C1292,33.5 1294,33.3 1296,33.2C1298,33.1 1300,33 1302,32.9C1304,32.8 1306,32.7 1308,32.6C1310,32.5 1312,32.5 1314,32.4C1316,32.3 1318,32.2 1320,32.2C1322,32.1 1324,32.1 1326,32C1328,32 1330,31.9 1332,31.9C1334,31.8 1336,31.8 1338,31.8C1340,31.8 1342,31.7 1344,31.7C1346,31.7 1348,31.7 1350,31.7C1352,31.6 1354,31.6 1356,31.6C1358,31.6 1360,31.6 1362,31.6C1364,31.6 1366,31.6 1368,31.6C1370,31.6 1372,31.6 1374,31.6C1376,31.6 1378,31.6 1380,31.6C1382,31.6 1384,31.6 1386,31.6C1388,31.6 1390,31.6 1392,31.6C1394,31.6 1396,31.6 1398,31.6C1400,31.6 1402,31.6 1404,31.6C1406,31.6 1408,31.6 1410,31.6C1412,31.6 1414,31.6 1416,31.6C1418,31.6 1420,31.6 1422,31.6C1424,31.6 1426,31.6 1428,31.6C1430,31.6 1432,31.6 1434,31.6C1436,31.6 1438.2,31.5 1440,31.5C1441.8,31.5 1443.8,31.4 1444.5,31.4" stroke="#808080" stroke-width="5.8"/>
<path d="M388,1049.6C389,1049.5 392,1049.4 394,1049.2C396,1049 398,1048.7 400,1048.4C402,1048.1 404,1047.8 406,1047.6C408,1047.3 410,1047 412,1046.7C414,1046.5 416,1046.2 418,1045.9C420,1045.6 422,1045.4 424,1045.1C426,1044.8 428,1044.5 430,1044.3C432,1044 434,1043.7 436,1043.4C438,1043.2 440,1042.9 442,1042.6C444,1042.3 446,1042 448,1041.8C450,1041.5 452,1041.2 454,1040.9C456,1040.6 458,1040.3 460,1040.1C462,1039.8 464,1039.5 466,1039.2C468,1038.9 470,1038.6 472,1038.3C474,1038 476,1037.7 478,1037.4C480,1037.1 482,1036.8 484,1036.5C486,1036.2 488,1035.9 490,1035.5C492,1035.2 494,1034.9 496,1034.6C498,1034.3 500,1033.9 502,1033.6C504,1033.3 506,1032.9 508,1032.6C510,1032.2 512,1031.9 514,1031.5C516,1031.2 518,1030.8 520,1030.5C522,1030.1 524,1029.7 526,1029.4C528,1029 530,1028.6 532,1028.2C534,1027.8 536,1027.4 538,1027C540,1026.6 542,1026.2 544,1025.8C546,1025.4 548,1025 550,1024.6C552,1024.1 554,1023.7 556,1023.2C558,1022.8 560,1022.4 562,1021.9C564,1021.4 566,1021 568,1020.5C570,1020 572,1019.5 574,1019C576,1018.5 578,1018 580,1017.5C582,1017 584,1016.4 586,1015.9C588,1015.3 590,1014.8 592,1014.2C594,1013.6 596,1013 598,1012.4C600,1011.8 602,1011.1 604,1010.5C606,1009.8 608,1009.2 610,1008.5C612,1007.8 614,1007.1 616,1006.3C618,1005.6 620,1004.8 622,1004C624,1003.3 626,1002.4 628,1001.6C630,1000.8 632,999.9 634,999C636,998.1 638,997.2 640,996.3C642,995.3 644,994.3 646,993.3C648,992.3 650,991.3 652,990.2C654,989.2 656,988.1 658,986.9C660,985.8 662,984.6 664,983.4C666,982.2 668,981 670,979.7C672,978.4 674,977.1 676,975.7C678,974.4 680,973 682,971.6C684,970.1 686,968.7 688,967.2C690,965.6 692,964.1 694,962.5C696,960.9 698,959.2 700,957.5C702,955.9 704,954.1 706,952.4C708,950.6 710,948.8 712,946.9C714,945.1 716,943.2 718,941.2C720,939.3 722,937.4 724,935.4C726,933.4 728,931.4 730,929.3C732,927.3 734,925.2 736,923.1C738,921 740,918.8 742,916.7C744,914.5 746,912.4 748,910.2C750,908 752,905.8 754,903.6C756,901.3 758,899.1 760,896.8C762,894.6 764,892.3 766,890.1C768,887.8 770,885.5 772,883.2C774,880.9 776,878.6 778,876.4C780,874.1 782,871.8 784,869.5C786,867.2 788,864.9 790,862.6C792,860.3 794,858 796,855.8C798,853.5 800,851.2 802,848.9C804,846.7 806,844.4 808,842.2C810,840 812,837.8 814,835.6C816,833.4 818,831.2 820,829C822,826.9 824,824.7 826,822.6C828,820.5 830,818.4 832,816.3C834,814.2 836,812.1 838,810.1C840,808 842,806 844,804C846,801.9 848,799.9 850,797.9C852,795.9 854,793.9 856,791.9C858,789.9 860,788 862,786C864,784 866,782 868,780.1C870,778.1 872,776.1 874,774.2C876,772.2 878,770.2 880,768.3C882,766.3 884,764.4 886,762.4C888,760.4 890,758.4 892,756.5C894,754.5 896,752.5 898,750.5C900,748.5 902,746.5 904,744.5C906,742.5 908,740.4 910,738.4C912,736.3 914,734.3 916,732.2C918,730.1 920,728.1 922,726C924,723.8 926,721.7 928,719.6C930,717.4 932,715.3 934,713.1C936,710.9 938,708.7 940,706.5C942,704.2 944,702 946,699.7C948,697.4 950,695.1 952,692.7C954,690.4 956,688 958,685.6C960,683.2 962,680.7 964,678.3C966,675.8 968,673.3 970,670.7C972,668.2 974,665.6 976,663C978,660.4 980,657.7 982,655C984,652.3 986,649.5 988,646.8C990,644 992,641.1 994,638.2C996,635.4 998,632.4 1000,629.5C1002,626.5 1004,623.5 1006,620.4C1008,617.3 1010,614.2 1012,611C1014,607.8 1016,604.6 1018,601.3C1020,598.1 1022,594.8 1024,591.4C1026,588.1 1028,584.7 1030,581.3C1032,577.9 1034,574.5 1036,571.1C1038,567.7 1040,564.2 1042,560.8C1044,557.3 1046,553.9 1048,550.4C1050,546.9 1052,543.5 1054,539.9C1056,536.4 1058,532.8 1060,529.1C1062,525.5 1064,521.8 1066,518C1068,514.2 1070,510.3 1072,506.4C1074,502.4 1076,498.3 1078,494.2C1080,490.1 1082,485.8 1084,481.5C1086,477.2 1088,472.8 1090,468.2C1092,463.7 1094,459.1 1096,454.4C1098,449.7 1100,445 1102,440.1C1104,435.2 1106,430.2 1108,425.2C1110,420.1 1112,415 1114,409.8C1116,404.6 1118,399.3 1120,394C1122,388.7 1124,383.3 1126,377.8C1128,372.4 1130,366.9 1132,361.4C1134,355.8 1136,350.2 1138,344.6C1140,339 1142,333.3 1144,327.6C1146,322 1148,316.3 1150,310.6C1152,304.9 1154,299.2 1156,293.5C1158,287.8 1160,282.1 1162,276.5C1164,270.9 1166,265.3 1168,259.8C1170,254.3 1172,248.8 1174,243.4C1176,238 1178,232.7 1180,227.5C1182,222.3 1184,217.1 1186,212.1C1188,207.1 1190,202.2 1192,197.5C1194,192.7 1196,188.1 1198,183.5C1200,179 1202,174.6 1204,170.4C1206,166.1 1208,162 1210,158C1212,153.9 1214,150 1216,146.2C1218,142.5 1220,138.8 1222,135.2C1224,131.7 1226,128.2 1228,124.9C1230,121.6 1232,118.4 1234,115.3C1236,112.1 1238,109.1 1240,106.2C1242,103.4 1244,100.6 1246,97.9C1248,95.2 1250,92.6 1252,90.1C1254,87.6 1256,85.3 1258,83C1260,80.7 1262,78.5 1264,76.4C1266,74.3 1268,72.3 1270,70.4C1272,68.5 1274,66.7 1276,65C1278,63.2 1280,61.6 1282,60C1284,58.5 1286,57 1288,55.6C1290,54.3 1292,53 1294,51.7C1296,50.5 1298,49.4 1300,48.3C1302,47.2 1304,46.3 1306,45.4C1308,44.4 1310,43.6 1312,42.8C1314,42.1 1316,41.4 1318,40.7C1320,40.1 1322,39.5 1324,39C1326,38.5 1328,38.1 1330,37.7C1332,37.2 1334,36.9 1336,36.6C1338,36.3 1340,36 1342,35.8C1344,35.6 1346,35.4 1348,35.3C1350,35.1 1352,35 1354,34.9C1356,34.8 1358,34.8 1360,34.8C1362,34.7 1364,34.8 1366,34.8C1368,34.8 1370,34.8 1372,34.8C1374,34.8 1376,34.8 1378,34.8C1380,34.8 1382,34.8 1384,34.8C1386,34.8 1388,34.8 1390,34.8C1392,34.8 1394,34.8 1396,34.8C1398,34.8 1400,34.8 1402,34.8C1404,34.8 1406,34.8 1408,34.8C1410,34.8 1412,34.8 1414,34.8C1416,34.8 1418,34.8 1420,34.8C1422,34.8 1424,34.9 1426,34.8C1428,34.6 1430,34.3 1432,34C1434,33.7 1436,33.4 1438,33C1440,32.6 1442.9,32 1444,31.7C1445.1,31.5 1444.4,31.6 1444.5,31.6" stroke="#ff0000" stroke-width="5.8"/>
<path d="M372,1049.6C373,1049.6 376,1049.8 378,1049.6C380,1049.4 382,1048.7 384,1048.2C386,1047.6 388,1046.9 390,1046.3C392,1045.7 394,1045.1 396,1044.5C398,1043.9 400,1043.4 402,1042.8C404,1042.3 406,1041.7 408,1041.2C410,1040.7 412,1040.2 414,1039.7C416,1039.2 418,1038.7 420,1038.2C422,1037.8 424,1037.3 426,1036.9C428,1036.4 430,1036 432,1035.6C434,1035.2 436,1034.8 438,1034.3C440,1033.9 442,1033.6 444,1033.2C446,1032.8 448,1032.4 450,1032.1C452,1031.7 454,1031.3 456,1031C458,1030.6 460,1030.3 462,1030C464,1029.6 466,1029.3 468,1029C470,1028.7 472,1028.4 474,1028.1C476,1027.8 478,1027.4 480,1027.2C482,1026.9 484,1026.6 486,1026.3C488,1026 490,1025.7 492,1025.4C494,1025.1 496,1024.9 498,1024.6C500,1024.3 502,1024 504,1023.8C506,1023.5 508,1023.2 510,1022.9C512,1022.7 514,1022.4 516,1022.1C518,1021.9 520,1021.6 522,1021.3C524,1021 526,1020.8 528,1020.5C530,1020.2 532,1020 534,1019.7C536,1019.4 538,1019.1 540,1018.8C542,1018.6 544,1018.3 546,1018C548,1017.7 550,1017.4 552,1017.1C554,1016.8 556,1016.5 558,1016.2C560,1015.9 562,1015.6 564,1015.2C566,1014.9 568,1014.6 570,1014.3C572,1013.9 574,1013.6 576,1013.2C578,1012.9 580,1012.5 582,1012.2C584,1011.8 586,1011.4 588,1011C590,1010.7 592,1010.3 594,1009.9C596,1009.5 598,1009.1 600,1008.6C602,1008.2 604,1007.8 606,1007.3C608,1006.9 610,1006.4 612,1006C614,1005.5 616,1005 618,1004.5C620,1004 622,1003.5 624,1003C626,1002.5 628,1001.9 630,1001.4C632,1000.8 634,1000.3 636,999.7C638,999.1 640,998.5 642,997.9C644,997.3 646,996.6 648,996C650,995.3 652,994.7 654,994C656,993.3 658,992.6 660,991.9C662,991.2 664,990.4 666,989.7C668,988.9 670,988.1 672,987.3C674,986.5 676,985.7 678,984.9C680,984.1 682,983.2 684,982.3C686,981.4 688,980.5 690,979.6C692,978.7 694,977.7 696,976.8C698,975.8 700,974.8 702,973.8C704,972.8 706,971.7 708,970.6C710,969.6 712,968.5 714,967.4C716,966.3 718,965.1 720,963.9C722,962.8 724,961.6 726,960.4C728,959.2 730,957.9 732,956.7C734,955.4 736,954.1 738,952.8C740,951.5 742,950.1 744,948.8C746,947.4 748,946 750,944.6C752,943.2 754,941.8 756,940.3C758,938.8 760,937.3 762,935.8C764,934.3 766,932.8 768,931.2C770,929.7 772,928.1 774,926.5C776,924.8 778,923.2 780,921.5C782,919.9 784,918.2 786,916.5C788,914.8 790,913 792,911.3C794,909.5 796,907.7 798,905.9C800,904.1 802,902.2 804,900.4C806,898.5 808,896.6 810,894.7C812,892.8 814,890.9 816,888.9C818,886.9 820,884.9 822,882.9C824,880.9 826,878.9 828,876.8C830,874.7 832,872.6 834,870.5C836,868.4 838,866.2 840,864.1C842,861.9 844,859.7 846,857.5C848,855.3 850,853 852,850.8C854,848.5 856,846.2 858,843.9C860,841.6 862,839.2 864,836.8C866,834.5 868,832.1 870,829.6C872,827.2 874,824.8 876,822.3C878,819.8 880,817.3 882,814.8C884,812.2 886,809.7 888,807.1C890,804.5 892,801.9 894,799.3C896,796.6 898,794 900,791.3C902,788.6 904,785.8 906,783.1C908,780.3 910,777.5 912,774.7C914,771.8 916,769 918,766.1C920,763.2 922,760.2 924,757.2C926,754.2 928,751.2 930,748.1C932,745.1 934,742 936,738.8C938,735.7 940,732.5 942,729.3C944,726 946,722.7 948,719.4C950,716.1 952,712.7 954,709.3C956,705.9 958,702.4 960,698.9C962,695.3 964,691.8 966,688.1C968,684.5 970,680.8 972,677.1C974,673.4 976,669.6 978,665.7C980,661.9 982,658 984,654C986,650.1 988,646.1 990,642C992,637.9 994,633.8 996,629.6C998,625.4 1000,621.1 1002,616.8C1004,612.5 1006,608.1 1008,603.6C1010,599.2 1012,594.7 1014,590.1C1016,585.6 1018,581 1020,576.3C1022,571.7 1024,566.9 1026,562.2C1028,557.5 1030,552.7 1032,547.8C1034,543 1036,538.1 1038,533.2C1040,528.3 1042,523.4 1044,518.4C1046,513.5 1048,508.5 1050,503.4C1052,498.4 1054,493.4 1056,488.3C1058,483.2 1060,478.2 1062,473.1C1064,468 1066,462.8 1068,457.7C1070,452.6 1072,447.5 1074,442.3C1076,437.2 1078,432 1080,426.9C1082,421.7 1084,416.6 1086,411.4C1088,406.3 1090,401.1 1092,396C1094,390.9 1096,385.7 1098,380.6C1100,375.5 1102,370.4 1104,365.3C1106,360.3 1108,355.2 1110,350.2C1112,345.1 1114,340.1 1116,335.1C1118,330.1 1120,325.2 1122,320.2C1124,315.3 1126,310.4 1128,305.6C1130,300.8 1132,296 1134,291.2C1136,286.5 1138,281.8 1140,277.1C1142,272.5 1144,267.9 1146,263.4C1148,258.9 1150,254.5 1152,250.1C1154,245.7 1156,241.4 1158,237.2C1160,233 1162,228.8 1164,224.8C1166,220.7 1168,216.7 1170,212.9C1172,209 1174,205.2 1176,201.5C1178,197.8 1180,194.2 1182,190.7C1184,187.2 1186,183.8 1188,180.5C1190,177.1 1192,173.9 1194,170.7C1196,167.5 1198,164.5 1200,161.4C1202,158.4 1204,155.5 1206,152.6C1208,149.7 1210,146.9 1212,144.1C1214,141.4 1216,138.7 1218,136C1220,133.4 1222,130.8 1224,128.3C1226,125.8 1228,123.4 1230,121C1232,118.6 1234,116.3 1236,114C1238,111.7 1240,109.5 1242,107.4C1244,105.2 1246,103.1 1248,101.1C1250,99 1252,97 1254,95.1C1256,93.2 1258,91.3 1260,89.5C1262,87.6 1264,85.9 1266,84.1C1268,82.4 1270,80.7 1272,79.1C1274,77.5 1276,75.9 1278,74.4C1280,72.9 1282,71.4 1284,70C1286,68.6 1288,67.2 1290,65.8C1292,64.5 1294,63.2 1296,62C1298,60.7 1300,59.5 1302,58.4C1304,57.2 1306,56.1 1308,55C1310,54 1312,52.9 1314,51.9C1316,51 1318,50 1320,49.1C1322,48.2 1324,47.3 1326,46.5C1328,45.7 1330,44.9 1332,44.1C1334,43.4 1336,42.6 1338,42C1340,41.3 1342,40.6 1344,40C1346,39.4 1348,38.8 1350,38.3C1352,37.7 1354,37.2 1356,36.7C1358,36.2 1360,35.8 1362,35.4C1364,34.9 1366,34.5 1368,34.2C1370,33.8 1372,33.5 1374,33.2C1376,32.9 1378,32.6 1380,32.3C1382,32.1 1384,31.8 1386,31.6C1388,31.5 1390,31.4 1392,31.4C1394,31.4 1396,31.4 1398,31.4C1400,31.4 1402,31.4 1404,31.4C1406,31.4 1408,31.4 1410,31.4C1412,31.4 1414,31.4 1416,31.4C1418,31.4 1420,31.4 1422,31.4C1424,31.4 1426,31.4 1428,31.4C1430,31.4 1432,31.4 1434,31.4C1436,31.4 1438.2,31.4 1440,31.4C1441.8,31.4 1443.8,31.4 1444.5,31.4" stroke="#0000ff" stroke-width="5.8"/>
</g>
<g font-family="Liberation Serif, Times New Roman, serif" font-weight="bold" style="font-kerning:none" font-size="46.5" fill="#000">
<text x="151.5" y="44.7" text-anchor="end">8</text>
<text x="151.5" y="298" text-anchor="end">6</text>
<text x="151.5" y="552.2" text-anchor="end">4</text>
<text x="151.5" y="806.3" text-anchor="end">2</text>
<text x="151.5" y="1060.4" text-anchor="end">0</text>
<text x="1473" y="44.8">100</text>
<text x="1475" y="246.9">80</text>
<text x="1475" y="450.5">60</text>
<text x="1475" y="654.2">40</text>
<text x="1475" y="857.8">20</text>
<text x="1475" y="1061.4">0</text>
<text x="183.6" y="1116.6" text-anchor="middle" textLength="54.7" >0.1</text>
<text x="499.5" y="1116.6" text-anchor="middle" >1</text>
<text x="814" y="1116.6" text-anchor="middle" >10</text>
<text x="1129" y="1116.6" text-anchor="middle" >100</text>
<text x="1443" y="1116.6" text-anchor="middle" textLength="90.4" >1000</text>
</g>
<text font-family="Liberation Serif, Times New Roman, serif" font-weight="bold" style="font-kerning:none" font-size="52.5" x="627" y="1198.6" textLength="371" lengthAdjust="spacing">Particle size /µm</text>
<text font-family="Liberation Serif, Times New Roman, serif" font-weight="bold" style="font-kerning:none" font-size="52.5" transform="translate(69.7,788.5) rotate(-90)" x="0" y="0" textLength="553" lengthAdjust="spacing">Cumulative Volume / %</text>
<text font-family="Liberation Serif, Times New Roman, serif" font-weight="bold" style="font-kerning:none" font-size="52.5" transform="translate(1600,854.5) rotate(-90)" x="0" y="0" textLength="628" lengthAdjust="spacing">Distribution percentual / %</text>
<path d="M229.5,111.2H364.5" stroke="#808080" stroke-width="6.2" stroke-linecap="round"/>
<use href="#mg" x="297" y="111.2"/>
<text font-family="Liberation Serif, Times New Roman, serif" font-weight="bold" style="font-kerning:none" font-size="59.8" x="375.8" y="130.9" fill="#808080">OSR</text>
<path d="M229.5,185.3H364.5" stroke="#ff0000" stroke-width="6.2" stroke-linecap="round"/>
<use href="#mr" x="297" y="185.3"/>
<text font-family="Liberation Serif, Times New Roman, serif" font-weight="bold" style="font-kerning:none" font-size="59.8" x="375.8" y="204.6" fill="#ff0000">SR</text>
<path d="M229.5,259H364.5" stroke="#0000ff" stroke-width="6.2" stroke-linecap="round"/>
<use href="#mb" x="297" y="259"/>
<text font-family="Liberation Serif, Times New Roman, serif" font-weight="bold" style="font-kerning:none" font-size="59.8" x="375.8" y="278.4" fill="#0000ff">SS</text>
</g>
</svg></body></html>
